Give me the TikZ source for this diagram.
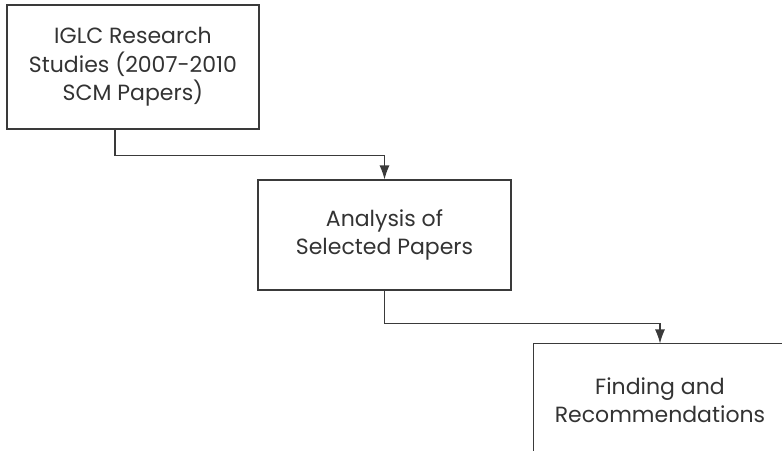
\documentclass[tikz,border=0pt]{standalone}
\usepackage{fontspec}
\setmainfont{Poppins}
\usetikzlibrary{arrows.meta}
\definecolor{linegray}{HTML}{3A3A3A}
\definecolor{textgray}{HTML}{333333}
\begin{document}
\begin{tikzpicture}[x=1pt,y=-1pt,
  box/.style={draw=linegray, line width=1.1pt, rectangle, inner sep=0pt,
    align=center, text=textgray, font=\fontsize{22}{28.5}\selectfont},
  openbox/.style={box, draw=none},
  edge/.style={draw=linegray, line width=1.1pt},
  conn/.style={edge, -{Latex[length=14pt,width=10pt]}}]
\useasboundingbox (0,0) rectangle (782,450);
\node[box, minimum width=252pt, minimum height=124pt] (b1) at (133,67)
  {IGLC Research\\Studies (2007-2010\\SCM Papers)};
\node[box, minimum width=253pt, minimum height=110pt] (b2) at (384.5,235)
  {Analysis of\\Selected Papers};
\node[openbox, minimum width=252pt, minimum height=112pt] (b3) at (660,400)
  {Finding and\\Recommendations};
\draw[edge] ([yshift=-10pt]b3.south west) -- (b3.north west) -- ([xshift=20pt]b3.north east);
\draw[conn] ([xshift=-18pt]b1.south) -- ++(0,26) -| (b2.north);
\draw[conn] (b2.south) -- ++(0,33) -| (b3.north);
\end{tikzpicture}
\end{document}
